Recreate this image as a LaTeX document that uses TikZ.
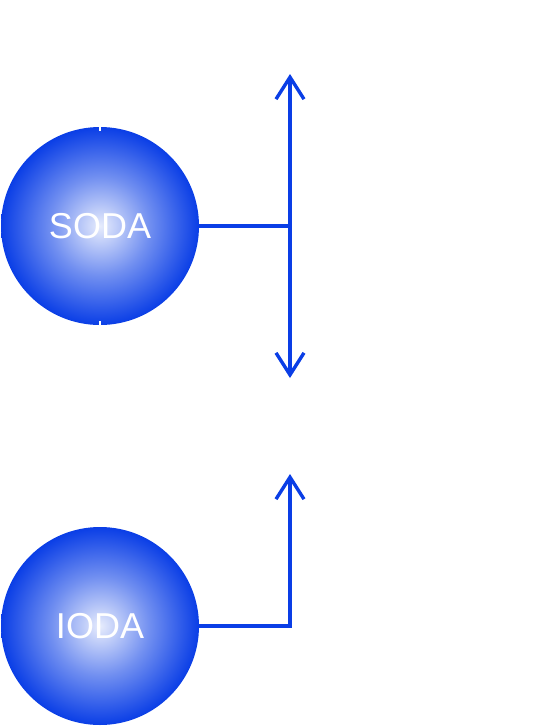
\documentclass[tikz,border=0pt]{standalone}
\usepackage{fontspec}
\setsansfont{Liberation Sans}
\usetikzlibrary{arrows.meta}
\definecolor{odablue}{RGB}{10,62,230}
\pgfdeclareradialshading{odaball}{\pgfpoint{0bp}{0bp}}{color(0bp)=(white!90!odablue); color(12.5bp)=(odablue!58!white); color(25bp)=(odablue); color(50bp)=(odablue)}
\tikzset{
  ball/.style={circle, minimum size=198pt, inner sep=0pt, shading=odaball, text=white, font=\sffamily\fontsize{36}{36}\selectfont},
  link/.style={line width=3.4pt, color=odablue},
  linkarrow/.style={-{Straight Barb[length=22pt, width=28pt]}},
  linkboth/.style={{Straight Barb[length=22pt, width=28pt]}-{Straight Barb[length=22pt, width=28pt]}}
}

\begin{document}
\begin{tikzpicture}[x=1pt, y=-1pt]
			%%%%% START %%%%%
			\useasboundingbox (0, 0) rectangle (556, 726);
			
			\node[ball] (soda) at (100, 226) {SODA};
			\draw[white, line width=2pt] (soda.north) -- ++(0, 4);
			\draw[white, line width=2pt] (soda.south) -- ++(0, -4);
			
			\coordinate (sodajoin) at (290, 226);
			\coordinate (sodaup) at (290, 74);
			\coordinate (sodadown) at (290, 378);
			\draw[link] (soda.east) -- (sodajoin);
			\draw[link, linkboth] (sodaup) -- (sodadown);
			
			\node[ball] (ioda) at (100, 626) {IODA};
			\coordinate (iodaup) at (290, 474);
			\draw[link, linkarrow] (ioda.east) -| (iodaup);
			
			%%%%% END %%%%%
\end{tikzpicture}
\end{document}
